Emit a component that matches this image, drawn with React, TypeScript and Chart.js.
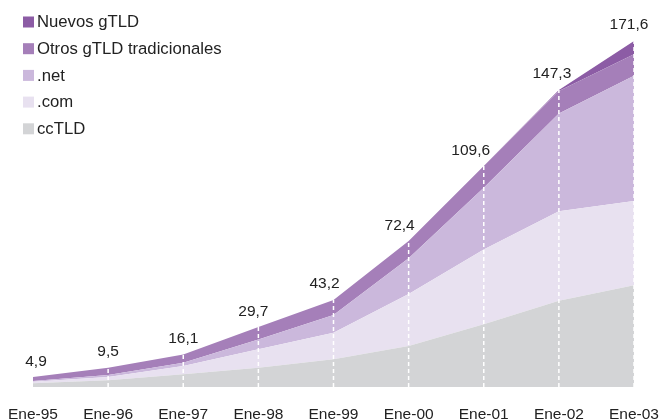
import React, { useEffect, useRef } from "react";
import { Chart, registerables } from "chart.js";

Chart.register(...registerables);

const categories = ["Ene-95", "Ene-96", "Ene-97", "Ene-98", "Ene-99", "Ene-00", "Ene-01", "Ene-02", "Ene-03"];
const ccTLD = [1.8, 3.3, 6.3, 9.6, 13.7, 20.3, 31.1, 42.8, 50.5];
const dotCom = [0.8, 1.7, 4.1, 9.1, 13.2, 25.8, 37.1, 44.4, 41.7];
const dotNet = [0.4, 1.0, 1.6, 4.9, 8.8, 17.7, 30.6, 48.4, 62.1];
const otrosGTLD = [1.9, 3.5, 4.1, 6.1, 7.5, 8.6, 10.8, 11.2, 10.7];
const nuevosGTLD = [0, 0, 0, 0, 0, 0, 0, 0.5, 6.6];

const seriesNames = ["ccTLD", ".com", ".net", "Otros gTLD tradicionales", "Nuevos gTLD"];
const seriesColors = ["#d3d4d6", "#e8e1f0", "#cbb8dc", "#a57fb9", "#8c5ca5"];
// horizontal nudges (px) of the total labels, as in the original layout
const labelNudge = [3, 0, 0, -5, -9, -9, -13, -7, -5];

const FONT = "'Liberation Sans', Arial, sans-serif";

export default function App() {
  const ref = useRef<HTMLCanvasElement>(null);
  useEffect(() => {
    document.body.style.margin = "0";
    const series = [ccTLD, dotCom, dotNet, otrosGTLD, nuevosGTLD];
    const overlay = {
      id: "overlay",
      afterDatasetsDraw(chart: any) {
        const ctx = chart.ctx;
        const xs = chart.scales.x;
        const ys = chart.scales.y;
        const totals = categories.map((_, i) => series.reduce((s, arr) => s + arr[i], 0));
        ctx.save();
        ctx.strokeStyle = "#ffffff";
        ctx.lineWidth = 1.5;
        ctx.setLineDash([4, 3]);
        totals.forEach((t, i) => {
          if (i === 0) return;
          const x = xs.getPixelForValue(i);
          ctx.beginPath();
          ctx.moveTo(x, ys.getPixelForValue(0));
          ctx.lineTo(x, ys.getPixelForValue(t));
          ctx.stroke();
        });
        ctx.setLineDash([]);
        ctx.fillStyle = "#222";
        ctx.font = `15.5px ${FONT}`;
        ctx.textAlign = "center";
        ctx.textBaseline = "bottom";
        totals.forEach((t, i) => {
          const txt = t.toFixed(1).replace(".", ",");
          const x = xs.getPixelForValue(i) + labelNudge[i];
          ctx.fillText(txt, x, ys.getPixelForValue(t) - 8);
        });
        ctx.font = `16.7px ${FONT}`;
        ctx.textAlign = "left";
        ctx.textBaseline = "middle";
        for (let k = 0; k < 5; k++) {
          const idx = 4 - k;
          const cy = 22 + k * 26.7;
          ctx.fillStyle = seriesColors[idx];
          ctx.fillRect(23, cy - 5.5, 11, 11);
          ctx.fillStyle = "#222";
          ctx.fillText(seriesNames[idx], 37, cy + 0.5);
        }
        ctx.restore();
      },
    };
    const chart = new Chart(ref.current!, {
      type: "line",
      data: {
        labels: categories,
        datasets: series.map((arr, i) => ({
          label: seriesNames[i],
          data: arr,
          backgroundColor: seriesColors[i],
          borderColor: seriesColors[i],
          borderWidth: 0,
          pointRadius: 0,
          tension: 0,
          fill: i === 0 ? "origin" : "-1",
        })),
      },
      options: {
        animation: false,
        responsive: false,
        layout: { padding: { left: 33, right: 25, top: 24, bottom: 0 } },
        plugins: { legend: { display: false }, tooltip: { enabled: false } },
        scales: {
          x: {
            offset: false,
            grid: { display: false },
            border: { display: false },
            ticks: { color: "#222", font: { family: FONT, size: 15.5 }, padding: 10, maxRotation: 0, autoSkip: false },
            afterFit: (s: any) => {
              s.height = 32;
              s.paddingLeft = 0;
              s.paddingRight = 0;
            },
          },
          y: { display: false, stacked: true, min: 0, max: 180 },
        },
      },
      plugins: [overlay],
    });
    return () => chart.destroy();
  }, []);
  return (
    <div style={{ position: "relative", width: 659, height: 419 }}>
      <canvas ref={ref} width={659} height={419} style={{ display: "block" }} />
    </div>
  );
}
